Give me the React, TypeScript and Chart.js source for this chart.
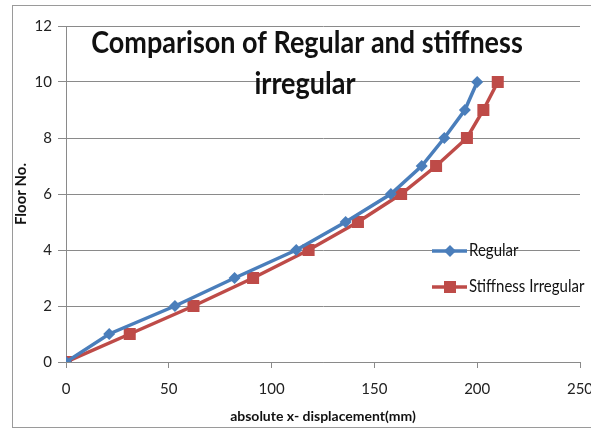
import React, { useEffect, useRef } from "react";
import { Chart, registerables } from "chart.js";

Chart.register(...registerables);

const floors = [0, 1, 2, 3, 4, 5, 6, 7, 8, 9, 10];
const regularDisp = [0, 21, 53, 82, 112, 136, 158, 173, 184, 194, 200];
const stiffnessDisp = [0, 31, 62, 91, 118, 142, 163, 180, 195, 203, 210];
const seriesNames = ["Regular", "Stiffness Irregular"];
const seriesColors = ["#4A7EBB", "#BE4B48"];
const titleLines = ["Comparison of Regular and stiffness", "irregular"];
const xTitle = "absolute x- displacement(mm)";
const yTitle = "Floor No.";
const xRange = [0, 250];
const yRange = [0, 12];
const xStep = 50;
const yStep = 2;

const FONT = "Lato, 'Open Sans', sans-serif";
const GRID = "#8a8a8a";

function drawMarker(ctx: CanvasRenderingContext2D, style: string, x: number, y: number, r: number, color: string) {
  ctx.save();
  ctx.fillStyle = color;
  ctx.beginPath();
  if (style === "rectRot") {
    ctx.moveTo(x, y - r);
    ctx.lineTo(x + r, y);
    ctx.lineTo(x, y + r);
    ctx.lineTo(x - r, y);
    ctx.closePath();
  } else {
    const s = r * Math.SQRT1_2;
    ctx.rect(x - s, y - s, 2 * s, 2 * s);
  }
  ctx.fill();
  ctx.restore();
}

const framePlugin = {
  id: "frame",
  beforeDraw(chart: any) {
    const ctx = chart.ctx as CanvasRenderingContext2D;
    ctx.save();
    ctx.fillStyle = "#ffffff";
    ctx.fillRect(0, 0, chart.width, chart.height);
    ctx.strokeStyle = "#9a9a9a";
    ctx.lineWidth = 1;
    ctx.strokeRect(12.5, 5.5, chart.width + 10, chart.height - 6);
    ctx.restore();
  },
};

const overlayPlugin = {
  id: "overlay",
  afterDraw(chart: any) {
    const ctx = chart.ctx as CanvasRenderingContext2D;
    ctx.save();
    // Title
    ctx.fillStyle = "#111111";
    ctx.font = `bold 27px ${FONT}`;
    ctx.textAlign = "center";
    ctx.textBaseline = "alphabetic";
    const w1 = ctx.measureText(titleLines[0]).width;
    const sx = Math.min(1, 440 / w1);
    const baselines = [53, 94];
    const centers = [307, 305];
    titleLines.forEach((line, i) => {
      ctx.save();
      ctx.translate(centers[i], baselines[i]);
      ctx.scale(sx, 1.12);
      ctx.fillText(line, 0, 0);
      ctx.restore();
    });
    // Legend
    const legendY = [251, 287];
    ctx.font = `15px ${FONT}`;
    ctx.textAlign = "left";
    ctx.textBaseline = "middle";
    chart.data.datasets.forEach((ds: any, i: number) => {
      const y = legendY[i];
      ctx.strokeStyle = ds.borderColor;
      ctx.lineWidth = 3.5;
      ctx.beginPath();
      ctx.moveTo(432, y);
      ctx.lineTo(467, y);
      ctx.stroke();
      drawMarker(ctx, ds.pointStyle, 450, y, ds.pointRadius, ds.backgroundColor);
      ctx.fillStyle = "#111111";
      const tw = ctx.measureText(ds.label).width;
      const maxW = i === 0 ? 52 : 117;
      ctx.save();
      ctx.translate(469, y);
      ctx.scale(Math.min(1, maxW / tw), 1.1);
      ctx.fillText(ds.label, 0, 0);
      ctx.restore();
    });
    ctx.restore();
  },
};

export default function App() {
  const canvasRef = useRef<HTMLCanvasElement | null>(null);

  useEffect(() => {
    if (!canvasRef.current) return;
    const toPoints = (xs: number[]) => xs.map((x, i) => ({ x, y: floors[i] }));
    const chart = new Chart(canvasRef.current, {
      type: "scatter",
      data: {
        datasets: [
          {
            label: seriesNames[0],
            data: toPoints(regularDisp),
            showLine: true,
            borderColor: seriesColors[0],
            backgroundColor: seriesColors[0],
            pointBorderColor: seriesColors[0],
            pointBackgroundColor: seriesColors[0],
            borderWidth: 3.5,
            pointStyle: "rectRot",
            pointRadius: 6,
            pointBorderWidth: 0,
          },
          {
            label: seriesNames[1],
            data: toPoints(stiffnessDisp),
            showLine: true,
            borderColor: seriesColors[1],
            backgroundColor: seriesColors[1],
            pointBorderColor: seriesColors[1],
            pointBackgroundColor: seriesColors[1],
            borderWidth: 3.5,
            pointStyle: "rect",
            pointRadius: 8.5,
            pointBorderWidth: 0,
          },
        ],
      },
      options: {
        responsive: false,
        animation: false,
        devicePixelRatio: 1,
        layout: { padding: { top: 26, right: 11, bottom: 2, left: 12 } },
        plugins: {
          legend: { display: false },
          title: { display: false },
          tooltip: { enabled: false },
        },
        scales: {
          x: {
            type: "linear",
            min: xRange[0],
            max: xRange[1],
            ticks: { stepSize: xStep, color: "#222222", font: { family: FONT, size: 15 }, padding: 12 },
            grid: { drawOnChartArea: false, drawTicks: true, tickLength: 6, color: GRID },
            border: { color: GRID },
            title: {
              display: true,
              text: xTitle,
              color: "#111111",
              font: { family: FONT, size: 14, weight: "bold" },
              padding: { top: 0, bottom: 1 },
            },
            afterFit: (s: any) => {
              s.height = 64;
              s.paddingLeft = 0;
              s.paddingRight = 0;
            },
          },
          y: {
            type: "linear",
            min: yRange[0],
            max: yRange[1],
            ticks: { stepSize: yStep, color: "#222222", font: { family: FONT, size: 15 }, padding: 6 },
            grid: { color: GRID, tickLength: 8 },
            border: { color: GRID },
            title: {
              display: true,
              text: yTitle,
              color: "#111111",
              font: { family: FONT, size: 15, weight: "bold" },
              padding: { top: 0, bottom: 6 },
            },
            afterFit: (s: any) => {
              s.width = 54;
              s.paddingTop = 0;
              s.paddingBottom = 0;
            },
          },
        },
      },
      plugins: [framePlugin, overlayPlugin],
    } as any);
    return () => chart.destroy();
  }, []);

  return (
    <div style={{ position: "fixed", left: 0, top: 0, width: 591, height: 428, background: "#fff" }}>
      <canvas ref={canvasRef} width={591} height={428} style={{ display: "block" }} />
    </div>
  );
}
